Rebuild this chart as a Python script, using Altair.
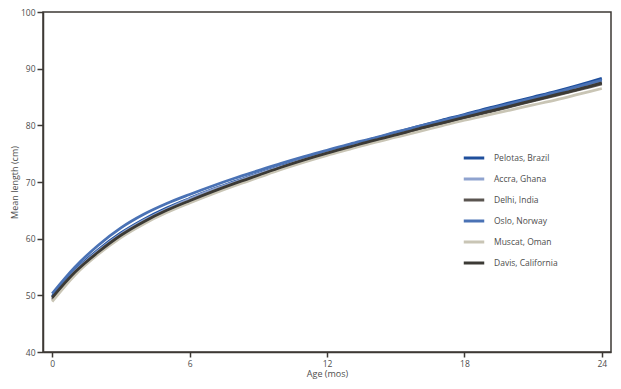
import altair as alt
import pandas as pd

ages = list(range(25))
sites = ["Pelotas, Brazil", "Accra, Ghana", "Delhi, India", "Oslo, Norway", "Muscat, Oman", "Davis, California"]
colors = ["#1f4f9c", "#8fa3cf", "#5a5550", "#4a72b5", "#c9c5b5", "#3c3a35"]

pelotas = [49.8, 54.4, 58.0, 61.0, 63.4, 65.4, 67.1, 68.7, 70.1, 71.5, 72.8, 74.1, 75.3, 76.5, 77.6, 78.7, 79.8, 80.9, 81.9, 83.0, 84.0, 85.0, 86.0, 87.1, 88.3]
accra = [49.5, 54.2, 57.8, 60.8, 63.2, 65.2, 67.0, 68.6, 70.0, 71.4, 72.7, 74.0, 75.2, 76.3, 77.4, 78.5, 79.6, 80.6, 81.6, 82.6, 83.6, 84.6, 85.6, 86.7, 87.8]
delhi = [49.2, 53.8, 57.4, 60.4, 62.8, 64.8, 66.5, 68.1, 69.6, 71.0, 72.4, 73.7, 74.9, 76.0, 77.1, 78.2, 79.3, 80.3, 81.3, 82.3, 83.3, 84.3, 85.3, 86.3, 87.3]
oslo = [50.3, 55.0, 58.8, 61.9, 64.3, 66.2, 67.8, 69.3, 70.7, 72.0, 73.3, 74.5, 75.6, 76.7, 77.7, 78.8, 79.8, 80.8, 81.8, 82.8, 83.8, 84.8, 85.8, 86.9, 88.0]
muscat = [48.9, 53.6, 57.2, 60.2, 62.6, 64.6, 66.3, 67.9, 69.4, 70.8, 72.2, 73.5, 74.7, 75.8, 76.9, 77.9, 78.9, 79.9, 80.9, 81.8, 82.7, 83.6, 84.5, 85.5, 86.5]
davis = [49.6, 54.1, 57.6, 60.6, 63.0, 65.0, 66.7, 68.3, 69.8, 71.2, 72.6, 73.9, 75.1, 76.2, 77.3, 78.3, 79.4, 80.4, 81.4, 82.4, 83.4, 84.4, 85.4, 86.4, 87.5]

series = [pelotas, accra, delhi, oslo, muscat, davis]
rows = []
for i, (name, vals) in enumerate(zip(sites, series)):
    for a, v in zip(ages, vals):
        rows.append({"Site": name, "Age": a, "Length": v, "order": i})
df = pd.DataFrame(rows)

axis_color = "#3d3935"
text_color = "#4d4d4d"
font = "Open Sans"

chart = alt.Chart(df).mark_line(strokeWidth=2.8, interpolate="monotone").encode(
    x=alt.X("Age:Q", scale=alt.Scale(domain=[-0.4, 24.4], nice=False, zero=False),
            axis=alt.Axis(values=[0, 6, 12, 18, 24], title="Age (mos)", grid=False,
                          tickSize=5, labelPadding=2, titlePadding=2)),
    y=alt.Y("Length:Q", scale=alt.Scale(domain=[40, 100], nice=False, zero=False),
            axis=alt.Axis(values=[40, 50, 60, 70, 80, 90, 100], title="Mean length (cm)", grid=False,
                          tickSize=6, labelPadding=2, titlePadding=1)),
    color=alt.Color("Site:N", scale=alt.Scale(domain=sites, range=colors), sort=sites,
                    legend=alt.Legend(title=None, orient="none", legendX=419, legendY=134,
                                      symbolType="stroke", symbolStrokeWidth=3, symbolSize=420,
                                      labelFontSize=8.5, labelColor=text_color, labelFont=font,
                                      rowPadding=3, labelOffset=8)),
    order=alt.Order("order:Q"),
    detail="Site:N",
).properties(
    width=568, height=340,
    autosize=alt.AutoSizeParams(type="none"),
    padding={"left": 35, "top": 4, "right": 2, "bottom": 29},
).configure_view(
    stroke=axis_color, strokeWidth=1.5
).configure_axis(
    domainColor=axis_color, domainWidth=1.5, tickColor=axis_color, tickWidth=1.5,
    labelColor=text_color, labelFontSize=8.5, labelFont=font,
    titleColor=text_color, titleFontSize=9, titleFontWeight="normal", titleFont=font,
)

chart.save("out.html", embed_options={"renderer": "svg", "actions": False})
